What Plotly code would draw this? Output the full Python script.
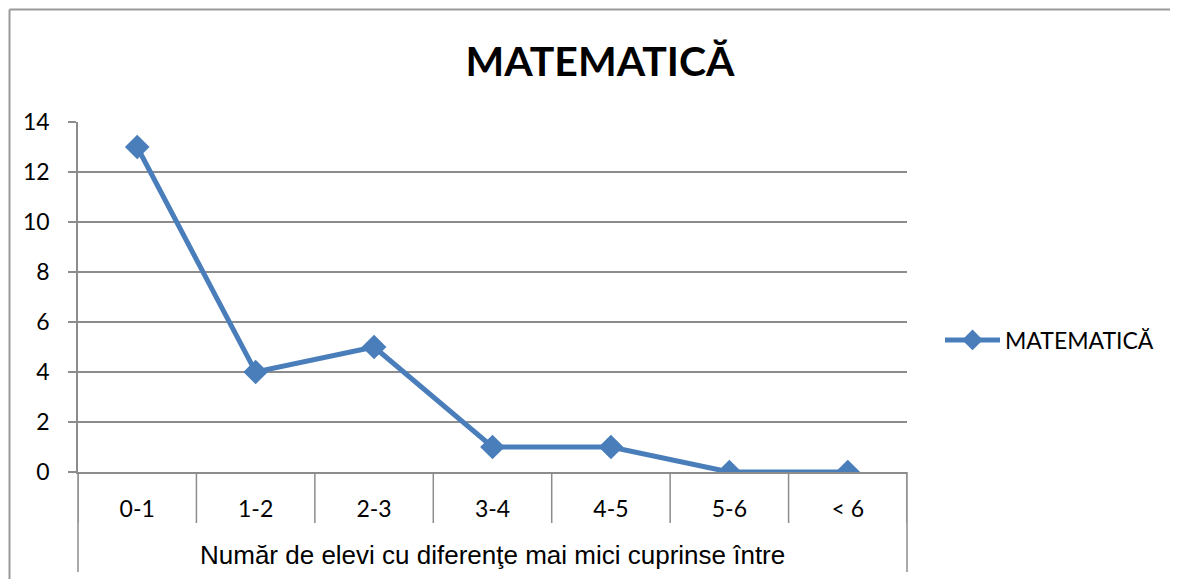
import plotly.graph_objects as go

categories = ["0-1", "1-2", "2-3", "3-4", "4-5", "5-6", "< 6"]
values = [13, 4, 5, 1, 1, 0, 0]
series_name = "MATEMATICĂ"
chart_title = "MATEMATICĂ"
outer_label = "Număr de elevi cu diferenţe mai mici cuprinse între"
y_ticks = [0, 2, 4, 6, 8, 10, 12, 14]

W, H = 1178, 579
OFF = 8  # page body margin
L, R, T, B = 78, 907, 122, 472
pw, ph = R - L, B - T

def px(x):
    return (x - L) / pw

def py(y):
    return (B - y) / ph

blue = "#4A7EBB"
grey = "#8C8C8C"
fam = "Lato, Open Sans, sans-serif"

fig = go.Figure()
fig.add_trace(go.Scatter(
    x=categories, y=values, mode="lines+markers", name=series_name,
    line=dict(color=blue, width=5),
    marker=dict(symbol="diamond", size=19, color=blue),
))

shapes = []
for i in range(len(categories) + 1):
    shapes.append(dict(type="line", xref="x", yref="paper",
                       x0=i - 0.5, x1=i - 0.5, y0=0, y1=py(523),
                       line=dict(color=grey, width=1.5)))
for xx in (0, 1):
    shapes.append(dict(type="line", xref="paper", yref="paper",
                       x0=xx, x1=xx, y0=0, y1=py(572),
                       line=dict(color=grey, width=1.5)))
shapes.append(dict(type="line", xref="paper", yref="paper",
                   x0=px(9.5), x1=px(9.5), y0=py(9.5), y1=py(600),
                   line=dict(color="#999999", width=2)))
shapes.append(dict(type="line", xref="paper", yref="paper",
                   x0=px(9.5), x1=px(1200), y0=py(9.5), y1=py(9.5),
                   line=dict(color="#999999", width=2)))

fig.update_layout(
    width=W, height=H,
    margin=dict(l=L - OFF, r=W - (L - OFF) - pw, t=T - OFF, b=H - (T - OFF) - ph, pad=0),
    paper_bgcolor="white", plot_bgcolor="white",
    title=dict(text=f"<b>{chart_title}</b>", x=(600 - OFF) / W, xref="container",
               xanchor="center", y=1 - (62 - OFF) / H, yref="container", yanchor="middle",
               font=dict(family=fam, size=41, color="black")),
    showlegend=True,
    legend=dict(x=px(940), y=py(340), xanchor="left", yanchor="middle",
                itemwidth=55,
                font=dict(family=fam, size=23, color="black"),
                bgcolor="rgba(0,0,0,0)"),
    shapes=shapes,
    annotations=[dict(text=outer_label, xref="paper", yref="paper",
                      x=0.5, y=py(555), xanchor="center", yanchor="middle",
                      showarrow=False,
                      font=dict(family="Liberation Sans, Arial, sans-serif", size=26, color="black"))],
    font=dict(family=fam, size=22, color="black"),
)
fig.update_xaxes(type="category", range=[-0.5, len(categories) - 0.5],
                 showgrid=False, zeroline=False, showline=True, linecolor=grey, linewidth=1.5,
                 ticks="", ticklabelstandoff=16,
                 tickfont=dict(family=fam, size=23, color="black"))
fig.update_yaxes(range=[0, 14], tickvals=y_ticks, showgrid=True, gridcolor=grey, gridwidth=1.5,
                 zeroline=False, showline=True, linecolor=grey, linewidth=1.5,
                 ticks="outside", ticklen=8, tickcolor=grey, tickwidth=1.5,
                 ticklabelstandoff=14,
                 tickfont=dict(family=fam, size=23, color="black"))

fig.write_html("out.html")
